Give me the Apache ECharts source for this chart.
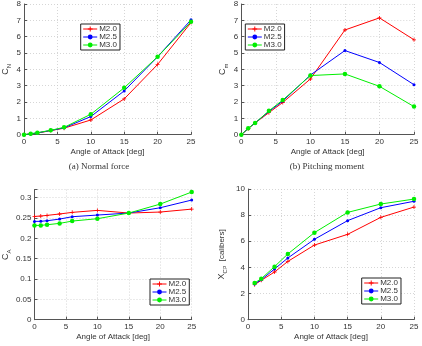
<!DOCTYPE html>
<html><head><meta charset="utf-8">
<script src="https://cdn.jsdelivr.net/npm/echarts@6/dist/echarts.min.js"></script>
<style>html,body{margin:0;padding:0;background:#fff}#c{width:422px;height:346px}</style>
</head><body><div id="c"></div>
<script>
var seriesNames = ['M2.0', 'M2.5', 'M3.0'];
var alpha = [0, 1, 2, 4, 6, 10, 15, 20, 25];
var alphaXcp = [1, 2, 4, 6, 10, 15, 20, 25];

var cnM20 = [0, 0.05, 0.1, 0.25, 0.4, 0.9, 2.19, 4.3, 6.86];
var cnM25 = [0, 0.05, 0.11, 0.26, 0.42, 1.11, 2.68, 4.77, 7.03];
var cnM30 = [0, 0.06, 0.12, 0.27, 0.45, 1.25, 2.87, 4.77, 6.91];

var cmM20 = [0, 0.37, 0.72, 1.35, 1.97, 3.41, 6.41, 7.15, 5.81];
var cmM25 = [0, 0.38, 0.72, 1.42, 2.06, 3.65, 5.15, 4.42, 3.06];
var cmM30 = [0, 0.39, 0.72, 1.46, 2.12, 3.62, 3.72, 2.96, 1.72];

var caM20 = [0.254, 0.255, 0.2566, 0.26, 0.264, 0.2689, 0.2623, 0.2648, 0.272];
var caM25 = [0.2418, 0.242, 0.2434, 0.2475, 0.2533, 0.2574, 0.2623, 0.2754, 0.2943];
var caM30 = [0.232, 0.232, 0.2336, 0.2369, 0.2426, 0.2484, 0.2623, 0.2844, 0.314];

var xcpM20 = [2.68, 3.01, 3.65, 4.46, 5.71, 6.53, 7.83, 8.62];
var xcpM25 = [2.73, 3.06, 3.88, 4.72, 6.15, 7.58, 8.57, 9.06];
var xcpM30 = [2.81, 3.14, 4.06, 5.03, 6.66, 8.21, 8.85, 9.23];

var colors = ['#ff0000', '#0000ff', '#00ee00'];
var symbols = ['path://M4,0H6V4H10V6H6V10H4V6H0V4H4Z', 'circle', 'circle'];
var symSizes = [4, 3, 4.5];

function pairs(xs, ys) { return xs.map(function (x, i) { return [x, ys[i]]; }); }

var axisFont = { fontFamily: 'Liberation Sans, Arial, sans-serif', fontSize: 8, color: '#333' };
var grid = [
  { left: 19, right: 231, top: -1.8, bottom: 211.3 },
  { left: 241.3, right: 8, top: -1.8, bottom: 211.3 },
  { left: 27.3, right: 230.3, top: 189.6, bottom: 26.3 },
  { left: 248, right: 8, top: 189, bottom: 26.3 }
];
function xAx(i) {
  return {
    gridIndex: i, type: 'value', min: 0, max: 25, interval: 5,
    name: 'Angle of Attack [deg]', nameLocation: 'middle', nameGap: 13,
    nameTextStyle: axisFont,
    axisLine: { lineStyle: { color: '#555', width: 1 } },
    axisTick: { inside: true, length: 3, lineStyle: { color: '#555' } },
    axisLabel: Object.assign({ margin: 3 }, axisFont),
    splitLine: { show: true, lineStyle: { color: '#ccc', type: [1, 2], width: 0.8 } }
  };
}
function yAx(i, max, interval, name, gap, rich, fmt) {
  return {
    gridIndex: i, type: 'value', min: 0, max: max, interval: interval,
    name: name, nameLocation: 'middle', nameRotate: 90, nameGap: gap,
    nameTextStyle: Object.assign({ rich: rich }, axisFont),
    axisLine: { show: true, lineStyle: { color: '#555', width: 1 } },
    axisTick: { show: true, inside: true, length: 3, lineStyle: { color: '#555' } },
    axisLabel: Object.assign({ margin: 3, showMaxLabel: true, formatter: fmt }, axisFont),
    splitLine: { show: true, lineStyle: { color: '#ccc', type: [1, 2], width: 0.8 } }
  };
}
var subRich = {
  m: { fontSize: 9, color: '#333', lineHeight: 13, verticalAlign: 'middle', fontFamily: 'Liberation Sans' },
  s: { fontSize: 6, color: '#333', lineHeight: 13, verticalAlign: 'bottom', fontFamily: 'Liberation Sans' },
  ss: { fontSize: 5, color: '#333', lineHeight: 13, verticalAlign: 'bottom', fontFamily: 'Liberation Sans' },
  t: { fontSize: 8, color: '#333', lineHeight: 13, verticalAlign: 'middle', fontFamily: 'Liberation Sans' }
};

var data = [
  [pairs(alpha, cnM20), pairs(alpha, cnM25), pairs(alpha, cnM30)],
  [pairs(alpha, cmM20), pairs(alpha, cmM25), pairs(alpha, cmM30)],
  [pairs(alpha, caM20), pairs(alpha, caM25), pairs(alpha, caM30)],
  [pairs(alphaXcp, xcpM20), pairs(alphaXcp, xcpM25), pairs(alphaXcp, xcpM30)]
];
var series = [];
data.forEach(function (group, gi) {
  group.forEach(function (d, si) {
    series.push({
      type: 'line', name: seriesNames[si], xAxisIndex: gi, yAxisIndex: gi, data: d,
      symbol: symbols[si], symbolSize: symSizes[si], showAllSymbol: true,
      lineStyle: { color: colors[si], width: 1 },
      itemStyle: { color: colors[si] }, animation: false, z: 3 + si
    });
  });
});
function leg(left, top) {
  return {
    data: seriesNames, orient: 'vertical', left: left, top: top,
    itemWidth: 14, itemHeight: 6, itemGap: 0, padding: [1, 3, 1, 2],
    borderColor: '#222', borderWidth: 1, backgroundColor: '#fff',
    lineStyle: { width: 1 },
    textStyle: { fontSize: 8, color: '#333', fontFamily: 'Liberation Sans, Arial', padding: [0, 0, 0, -3] },
    selectedMode: false
  };
}
var fmt2 = function (v) { return Math.abs(v - 0.32) < 1e-9 ? '' : String(+v.toFixed(2)); };
var option = {
  animation: false,
  grid: grid,
  xAxis: [xAx(0), xAx(1), xAx(2), xAx(3)],
  yAxis: [
    yAx(0, 8, 1, '{m|C}{s|N}', 12, subRich),
    yAx(1, 8, 1, '{m|C}{s|m}', 12, subRich),
    yAx(2, 0.32, 0.05, '{m|C}{s|A}', 21, subRich, fmt2),
    yAx(3, 10, 2, '{m|X}{s|C}{ss|P}{t|  [calibers]}', 20, subRich)
  ],
  legend: [leg(80.7, 24), leg(245.3, 24), leg(150, 279), leg(361.7, 278)],
  series: series,
  graphic: [
    { type: 'text', x: 99, y: 167, style: { text: '(a) Normal force', font: '9px "Liberation Serif", serif', fill: '#333', textAlign: 'center', textVerticalAlign: 'middle' } },
    { type: 'text', x: 327, y: 167, style: { text: '(b) Pitching moment', font: '9px "Liberation Serif", serif', fill: '#333', textAlign: 'center', textVerticalAlign: 'middle' } }
  ]
};
var chart = echarts.init(document.getElementById('c'), null, { renderer: 'canvas' });
chart.setOption(option);
</script>
</body></html>
